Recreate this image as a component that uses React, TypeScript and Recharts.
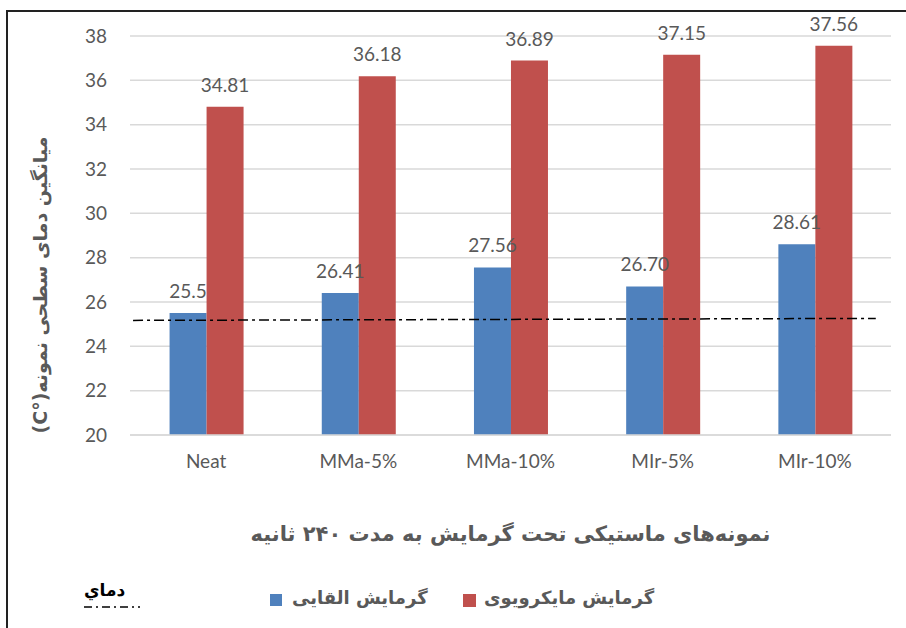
import React from 'react';
import {
  BarChart,
  Bar,
  XAxis,
  YAxis,
  CartesianGrid,
  ReferenceLine,
  LabelList,
} from 'recharts';

const samples = ['Neat', 'MMa-5%', 'MMa-10%', 'MIr-5%', 'MIr-10%'];
const induction = [25.5, 26.41, 27.56, 26.7, 28.61];
const inductionLabels = ['25.5', '26.41', '27.56', '26.70', '28.61'];
const microwave = [34.81, 36.18, 36.89, 37.15, 37.56];
const microwaveLabels = ['34.81', '36.18', '36.89', '37.15', '37.56'];
const yTicks = [20, 22, 24, 26, 28, 30, 32, 34, 36, 38];
// ambient temperature line: [x position in category units, value]
const ambientStart = [-0.48, 25.17];
const ambientEnd = [4.4, 25.26];

const BLUE = '#4F81BD';
const RED = '#C0504D';
const TEXT = '#595959';
const NUM_FONT = 'Lato, "Open Sans", sans-serif';
const FA_FONT = '"DejaVu Sans", sans-serif';

const data = samples.map((name, i) => ({
  name,
  pos: i,
  induction: induction[i],
  microwave: microwave[i],
  inductionLabel: inductionLabels[i],
  microwaveLabel: microwaveLabels[i],
}));

export default function App() {
  return (
    <div
      style={{
        position: 'absolute',
        left: 0,
        top: 0,
        width: 906,
        height: 628,
        overflow: 'hidden',
        background: '#fff',
      }}
    >
      <div
        style={{
          position: 'absolute',
          left: 6,
          top: 10,
          width: 940,
          height: 660,
          border: '2px solid #222',
        }}
      />
      <div style={{ position: 'absolute', left: 0, top: 0 }}>
        <BarChart
          width={906}
          height={628}
          data={data}
          margin={{ top: 36, right: 15, left: 60, bottom: 83 }}
          barCategoryGap="26%"
          barGap={0}
        >
          <CartesianGrid vertical={false} stroke="#D9D9D9" strokeWidth={1.5} />
          <XAxis
            dataKey="name"
            height={110}
            tickLine={false}
            axisLine={{ stroke: '#D9D9D9', strokeWidth: 1.5 }}
            tick={{ fill: TEXT, fontSize: 19, fontFamily: NUM_FONT }}
            tickMargin={14}
            label={{
              value: 'نمونه‌های ماستیکی تحت گرمایش به مدت ۲۴۰ ثانیه',
              position: 'insideBottom',
              offset: 4,
              fill: TEXT,
              fontSize: 21,
              fontWeight: 'bold',
              fontFamily: FA_FONT,
              direction: 'rtl',
            }}
          />
          <XAxis
            xAxisId="ref"
            dataKey="pos"
            type="number"
            domain={[-0.5, 4.5]}
            allowDataOverflow
            hide
          />
          <YAxis
            width={70}
            domain={[20, 38]}
            ticks={yTicks}
            interval={0}
            tickLine={false}
            axisLine={false}
            tickSize={0}
            tickMargin={23}
            tick={{ fill: TEXT, fontSize: 19, fontFamily: NUM_FONT }}
            label={() => (
              <text
                transform="translate(40,285) rotate(-90)"
                textAnchor="middle"
                dominantBaseline="central"
                direction="rtl"
                fill={TEXT}
                fontSize={19}
                fontWeight="bold"
                fontFamily={FA_FONT}
              >
                میانگین دمای سطحی نمونه(°C)
              </text>
            )}
          />
          <Bar dataKey="induction" fill={BLUE} isAnimationActive={false}>
            <LabelList
              dataKey="inductionLabel"
              position="top"
              offset={15}
              fill={TEXT}
              fontSize={19}
              fontFamily={NUM_FONT}
            />
          </Bar>
          <Bar dataKey="microwave" fill={RED} isAnimationActive={false}>
            <LabelList
              dataKey="microwaveLabel"
              position="top"
              offset={15}
              fill={TEXT}
              fontSize={19}
              fontFamily={NUM_FONT}
            />
          </Bar>
          <ReferenceLine
            xAxisId="ref"
            segment={[
              { x: ambientStart[0], y: ambientStart[1] },
              { x: ambientEnd[0], y: ambientEnd[1] },
            ]}
            ifOverflow="visible"
            stroke="#000"
            strokeWidth={1.5}
            strokeDasharray="10 4 3 4"
          />
        </BarChart>
      </div>
      <div
        style={{
          position: 'absolute',
          left: 84,
          top: 580,
          fontFamily: FA_FONT,
          fontWeight: 'bold',
          fontSize: 17,
          color: '#000',
        }}
        dir="rtl"
      >
        دماي
      </div>
      <svg
        style={{ position: 'absolute', left: 84, top: 604 }}
        width={56}
        height={6}
      >
        <line
          x1={0}
          y1={3}
          x2={56}
          y2={3}
          stroke="#000"
          strokeWidth={1.5}
          strokeDasharray="8 4 2 4"
        />
      </svg>
      <span
        style={{
          position: 'absolute',
          left: 270,
          top: 594,
          width: 12,
          height: 12,
          background: BLUE,
        }}
      />
      <div
        dir="rtl"
        style={{
          position: 'absolute',
          left: 292,
          top: 587,
          fontFamily: FA_FONT,
          fontWeight: 'bold',
          fontSize: 18,
          color: TEXT,
          whiteSpace: 'nowrap',
        }}
      >
        گرمایش القایی
      </div>
      <span
        style={{
          position: 'absolute',
          left: 463,
          top: 594,
          width: 13,
          height: 13,
          background: RED,
        }}
      />
      <div
        dir="rtl"
        style={{
          position: 'absolute',
          left: 484,
          top: 587,
          fontFamily: FA_FONT,
          fontWeight: 'bold',
          fontSize: 18,
          color: TEXT,
          whiteSpace: 'nowrap',
        }}
      >
        گرمایش مایکرویوی
      </div>
    </div>
  );
}
